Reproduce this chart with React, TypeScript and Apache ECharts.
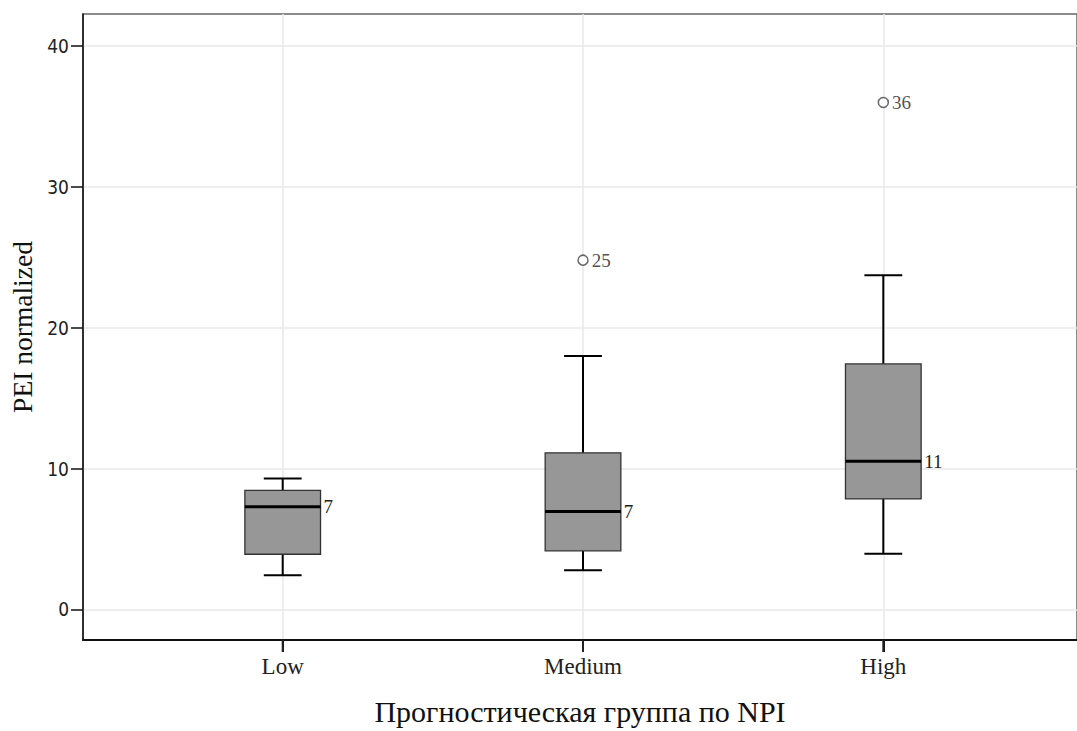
import React, { useEffect, useRef } from "react";
import * as echarts from "echarts";

const categories = ["Low", "Medium", "High"];
// [whisker low, Q1, median, Q3, whisker high]
const boxLow = [2.43, 3.92, 7.29, 8.46, 9.3];
const boxMedium = [2.78, 4.16, 6.96, 11.12, 18.0];
const boxHigh = [3.95, 7.85, 10.53, 17.43, 23.73];
const medianLabels = ["7", "7", "11"];
const outlierCategory = [1, 2];
const outlierValues = [24.8, 36.0];
const outlierLabels = ["25", "36"];
const yTicks = [0, 10, 20, 30, 40];
const xTicks = [0, 1, 2];

const boxes = [boxLow, boxMedium, boxHigh];

const Y_MIN = -2.17;
const Y_MAX = 42.28;

export default function App() {
  const ref = useRef<HTMLDivElement>(null);
  useEffect(() => {
    if (!ref.current) return;
    const chart = echarts.init(ref.current, undefined, { renderer: "svg" });
    const serif = "'Liberation Serif', 'Times New Roman', serif";
    const narrow = "'Liberation Sans Narrow', 'DejaVu Sans Condensed', sans-serif";
    const boxData = boxes.map((b, i) => [i, ...b, medianLabels[i]]);
    const option: any = {
      animation: false,
      backgroundColor: "#ffffff",
      grid: {
        left: 83,
        right: -4,
        top: 14,
        bottom: 83,
        show: true,
        borderColor: "#666666",
        borderWidth: 1.5,
        backgroundColor: "transparent",
      },
      xAxis: {
        type: "value",
        min: -0.665,
        max: 2.645,
        name: "Прогностическая группа по NPI",
        nameLocation: "middle",
        nameGap: 56,
        nameTextStyle: { fontFamily: serif, fontSize: 30, color: "#111" },
        axisLine: { show: true, onZero: false, lineStyle: { color: "#111", width: 2 } },
        axisTick: { show: true, inside: false, length: 12, customValues: xTicks, lineStyle: { color: "#111", width: 2 } },
        axisLabel: {
          customValues: xTicks,
          formatter: (v: number) => categories[Math.round(v)] ?? "",
          fontFamily: serif,
          fontSize: 23,
          color: "#222",
          margin: 15,
        },
        splitLine: { show: true, lineStyle: { color: "#e8e8e8", width: 1.5 } },
      },
      yAxis: {
        type: "value",
        min: Y_MIN,
        max: Y_MAX,
        name: "PEI normalized",
        nameLocation: "middle",
        nameGap: 44,
        nameTextStyle: { fontFamily: serif, fontSize: 27.5, color: "#111" },
        axisLine: { show: true, onZero: false, lineStyle: { color: "#111", width: 1.5 } },
        axisTick: { show: true, length: 12, customValues: yTicks, lineStyle: { color: "#111", width: 1.5 } },
        axisLabel: {
          customValues: yTicks,
          fontFamily: narrow,
          fontSize: 19,
          color: "#222",
          margin: 14,
        },
        splitLine: { show: true, lineStyle: { color: "#e8e8e8", width: 1.5 } },
      },
      series: [
        {
          type: "custom",
          data: boxData,
          encode: { x: 0, y: [1, 2, 3, 4, 5] },
          clip: false,
          renderItem: (params: any, api: any) => {
            const x = api.value(0);
            const wl = api.coord([x, api.value(1)]);
            const q1 = api.coord([x, api.value(2)]);
            const md = api.coord([x, api.value(3)]);
            const q3 = api.coord([x, api.value(4)]);
            const wh = api.coord([x, api.value(5)]);
            const base = api.coord([x, Y_MIN]);
            const band = api.size([1, 0])[0];
            const bw = band * 0.252;
            const cw = bw * 0.5;
            const cx = wl[0];
            const label = boxData[params.dataIndex][6];
            const lineStyle = { stroke: "#000", lineWidth: 2 };
            return {
              type: "group",
              children: [
                { type: "line", shape: { x1: cx, y1: base[1], x2: cx, y2: base[1] + 12 }, style: { stroke: "#222", lineWidth: 2 } },
                { type: "line", shape: { x1: cx, y1: wl[1], x2: cx, y2: q1[1] }, style: lineStyle },
                { type: "line", shape: { x1: cx, y1: q3[1], x2: cx, y2: wh[1] }, style: lineStyle },
                { type: "line", shape: { x1: cx - cw / 2, y1: wl[1], x2: cx + cw / 2, y2: wl[1] }, style: lineStyle },
                { type: "line", shape: { x1: cx - cw / 2, y1: wh[1], x2: cx + cw / 2, y2: wh[1] }, style: lineStyle },
                {
                  type: "rect",
                  shape: { x: cx - bw / 2, y: q3[1], width: bw, height: q1[1] - q3[1] },
                  style: { fill: "#979797", stroke: "#333", lineWidth: 1.3 },
                },
                { type: "line", shape: { x1: cx - bw / 2, y1: md[1], x2: cx + bw / 2, y2: md[1] }, style: { stroke: "#000", lineWidth: 3 } },
                {
                  type: "text",
                  style: {
                    x: cx + bw / 2 + 3,
                    y: md[1],
                    text: label,
                    fontFamily: serif,
                    fontSize: 19,
                    fill: "#222",
                    verticalAlign: "middle",
                    align: "left",
                  },
                },
              ],
            };
          },
          z: 3,
        },
        {
          type: "scatter",
          data: outlierCategory.map((c, i) => [c, outlierValues[i], outlierLabels[i]]),
          symbol: "circle",
          symbolSize: 10,
          itemStyle: { color: "#fff", borderColor: "#444", borderWidth: 1.5 },
          label: {
            show: true,
            position: "right",
            distance: 3,
            formatter: (p: any) => p.value[2],
            fontFamily: serif,
            fontSize: 19,
            color: "#222",
          },
          z: 4,
        },
      ],
    };
    chart.setOption(option);
    return () => chart.dispose();
  }, []);
  return (
    <div
      ref={ref}
      style={{ position: "absolute", left: 0, top: 0, width: 1077, height: 731 }}
    />
  );
}
